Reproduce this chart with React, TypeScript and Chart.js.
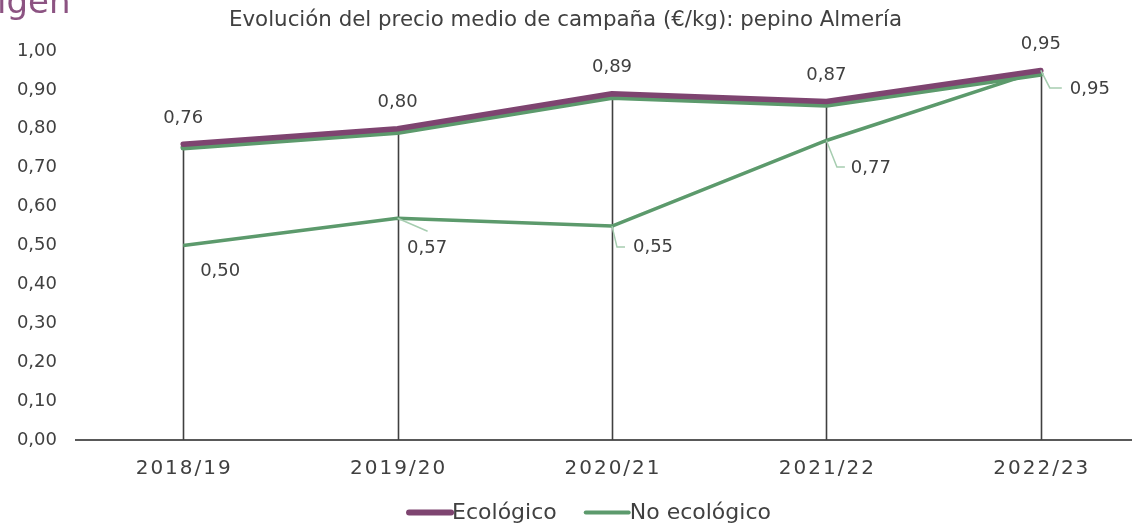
import React, { useEffect, useRef } from 'react';
import { Chart, registerables } from 'chart.js';

Chart.register(...registerables);

// ---- data ----
const categories = ['2018/19', '2019/20', '2020/21', '2021/22', '2022/23'];
const ecologico = [0.76, 0.8, 0.89, 0.87, 0.95];
const noEcologico = [0.5, 0.57, 0.55, 0.77, 0.95];
const seriesNames = ['Ecológico', 'No ecológico'];
const titleText = 'Evolución del precio medio de campaña (€/kg): pepino Almería';
const cornerText = 'igen';
const yMin = 0;
const yMax = 1;
const yStep = 0.1;

// ---- styles ----
const PURPLE = '#7E4470';
const PURPLE_TEXT = '#8C5382';
const GREEN = '#5C9A6C';
const LEADER = '#A6CDB0';
const TEXT = '#404040';
const AXIS = '#595959';
const FONT = '"DejaVu Sans", sans-serif';

// label placement (offsets from each point) for the "No ecológico" values
const noEcoLabelStyle = [
  { dx: 37, dy: 26, leader: [] as number[][] },
  { dx: 29.5, dy: 30, leader: [[30, 13]] },
  { dx: 41, dy: 21, leader: [[5, 21], [13, 21]] },
  { dx: 44.5, dy: 28, leader: [[10.5, 26.5], [18.5, 26.5]] },
  { dx: 49, dy: 19, leader: [[9, 17.5], [21, 17.5]] },
];

const fmt = (v: number) => v.toFixed(2).replace('.', ',');

const decorPlugin = {
  id: 'decor',
  beforeDatasetsDraw(chart: any) {
    const { ctx, scales } = chart;
    const x = scales.x;
    const y = scales.y;
    ctx.save();
    ctx.strokeStyle = '#404040';
    ctx.lineWidth = 1.6;
    ecologico.forEach((v, i) => {
      const px = Math.round(x.getPixelForValue(i)) + 0.5;
      ctx.beginPath();
      ctx.moveTo(px, y.getPixelForValue(v));
      ctx.lineTo(px, y.getPixelForValue(0));
      ctx.stroke();
    });
    ctx.restore();
  },
  beforeDatasetDraw(chart: any, args: any) {
    if (args.index === 0) {
      const ctx = chart.ctx;
      ctx.save();
      ctx.shadowColor = GREEN;
      ctx.shadowOffsetY = 3.5;
      ctx.shadowOffsetX = 0;
      ctx.shadowBlur = 0;
    }
  },
  afterDatasetDraw(chart: any, args: any) {
    if (args.index === 0) chart.ctx.restore();
  },
  afterDatasetsDraw(chart: any) {
    const { ctx, scales } = chart;
    const x = scales.x;
    const y = scales.y;
    ctx.save();
    ctx.font = `18px ${FONT}`;
    ctx.fillStyle = TEXT;
    ctx.textAlign = 'center';
    ctx.textBaseline = 'middle';
    ecologico.forEach((v, i) => {
      ctx.fillText(fmt(v), x.getPixelForValue(i), y.getPixelForValue(v) - 26);
    });
    noEcologico.forEach((v, i) => {
      const px = x.getPixelForValue(i);
      const py = y.getPixelForValue(v);
      const st = noEcoLabelStyle[i];
      if (st.leader.length) {
        ctx.strokeStyle = LEADER;
        ctx.lineWidth = 1.5;
        ctx.beginPath();
        ctx.moveTo(px, py);
        st.leader.forEach((p) => ctx.lineTo(px + p[0], py + p[1]));
        ctx.stroke();
      }
      ctx.fillText(fmt(v), px + st.dx, py + st.dy);
    });
    ctx.restore();
  },
  afterDraw(chart: any) {
    const { ctx, scales } = chart;
    const x = scales.x;
    ctx.save();
    // x tick labels (letter-spaced)
    ctx.font = `20px ${FONT}`;
    ctx.fillStyle = TEXT;
    ctx.textBaseline = 'middle';
    ctx.textAlign = 'left';
    const ls = 2;
    (ctx as any).letterSpacing = `${ls}px`;
    categories.forEach((c, i) => {
      const w = ctx.measureText(c).width - ls;
      ctx.fillText(c, x.getPixelForValue(i) - w / 2, 469);
    });
    (ctx as any).letterSpacing = '0px';

    // title
    ctx.font = `21px ${FONT}`;
    ctx.textAlign = 'center';
    ctx.fillStyle = TEXT;
    const tw = ctx.measureText(titleText).width;
    const sx = 673 / tw;
    ctx.save();
    ctx.translate(565.5, 21);
    ctx.scale(sx, 1);
    ctx.fillText(titleText, 0, 0);
    ctx.restore();

    // corner text
    ctx.font = `34px ${FONT}`;
    ctx.fillStyle = PURPLE_TEXT;
    ctx.textAlign = 'left';
    ctx.textBaseline = 'alphabetic';
    ctx.fillText(cornerText, -3, 13);

    // legend
    ctx.font = `22px ${FONT}`;
    const sample = 46;
    const gap = 27;
    const w0 = ctx.measureText(seriesNames[0]).width;
    const w1 = ctx.measureText(seriesNames[1]).width;
    const total = sample + w0 + gap + sample + w1;
    let lx = 588.5 - total / 2;
    const ly = 512.5;
    ctx.lineCap = 'round';
    ctx.strokeStyle = PURPLE;
    ctx.lineWidth = 6;
    ctx.beginPath();
    ctx.moveTo(lx + 3, ly);
    ctx.lineTo(lx + sample - 1, ly);
    ctx.stroke();
    ctx.fillStyle = TEXT;
    ctx.textBaseline = 'middle';
    ctx.fillText(seriesNames[0], lx + sample, ly + 1);
    lx += sample + w0 + gap;
    ctx.strokeStyle = GREEN;
    ctx.lineWidth = 4;
    ctx.beginPath();
    ctx.moveTo(lx + 2, ly);
    ctx.lineTo(lx + sample - 1, ly);
    ctx.stroke();
    ctx.fillText(seriesNames[1], lx + sample, ly + 1);
    ctx.restore();
  },
};

export default function App() {
  const ref = useRef<HTMLCanvasElement>(null);
  useEffect(() => {
    const canvas = ref.current;
    if (!canvas) return;
    const chart = new Chart(canvas, {
      type: 'line',
      data: {
        labels: categories,
        datasets: [
          {
            label: seriesNames[0],
            data: ecologico,
            borderColor: PURPLE,
            backgroundColor: PURPLE,
            borderWidth: 5.5,
            pointRadius: 0,
            tension: 0,
            borderCapStyle: 'round',
            borderJoinStyle: 'round',
          },
          {
            label: seriesNames[1],
            data: noEcologico,
            borderColor: GREEN,
            backgroundColor: GREEN,
            borderWidth: 3.5,
            pointRadius: 0,
            tension: 0,
            borderJoinStyle: 'round',
          },
        ],
      },
      options: {
        responsive: false,
        animation: false,
        devicePixelRatio: 1,
        layout: { padding: { left: 0, right: 0, top: 51, bottom: 0 } },
        plugins: {
          legend: { display: false },
          title: { display: false },
          tooltip: { enabled: false },
        },
        scales: {
          x: {
            offset: true,
            grid: { display: false, drawTicks: false },
            border: { display: true, color: AXIS, width: 2 },
            ticks: { display: false },
            afterFit: (s: any) => {
              s.height = 83;
            },
          },
          y: {
            min: yMin,
            max: yMax,
            grid: { display: false, drawTicks: false },
            border: { display: false },
            ticks: {
              stepSize: yStep,
              padding: 19,
              color: TEXT,
              font: { family: FONT, size: 18 },
              callback: (v: any) => fmt(Number(v)),
            },
            afterFit: (s: any) => {
              s.width = 76;
            },
          },
        },
      } as any,
      plugins: [decorPlugin],
    });
    return () => chart.destroy();
  }, []);
  return (
    <div
      style={{
        position: 'absolute',
        left: 0,
        top: 0,
        width: 1132,
        height: 523,
        overflow: 'hidden',
        background: '#ffffff',
      }}
    >
      <canvas ref={ref} width={1148} height={523} style={{ display: 'block', width: 1148, height: 523 }} />
    </div>
  );
}
